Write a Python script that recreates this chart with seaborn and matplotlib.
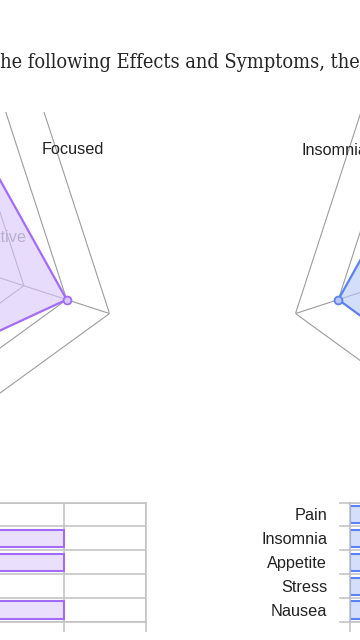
import numpy as np
import pandas as pd
import matplotlib
matplotlib.use("Agg")
import matplotlib.pyplot as plt
import seaborn as sns
from matplotlib.transforms import Bbox, TransformedBbox

# ---------------- data ----------------
title_text = "the following Effects and Symptoms, the"
effects = ["Relaxed", "Happy", "Focused", "Creative", "Energetic"]
effect_radar = [3, 4, 3, 2, 3]
symptoms = ["Pain", "Insomnia", "Appetite", "Stress", "Nausea"]
symptom_radar = [4, 4, 3, 3, 2]
radar_levels = [1, 2, 3, 4, 5]
effect_counts = [3, 4, 4, 2, 4]
symptom_counts = [3, 4, 2, 3, 2]
count_ticks = [0, 1, 2, 3, 4, 5]

# ---------------- style ----------------
W, H = 360, 640
sns.set_theme(style="white")
plt.rcParams["font.family"] = ["Liberation Sans", "DejaVu Sans"]

PURPLE = "#a36cf7"
PURPLE_FILL = "#d9c6fb"
PURPLE_BAR = "#eadffd"
BLUE = "#5b82ef"
BLUE_FILL = "#b7c8f8"
BLUE_BAR = "#d5dffb"
GRID = "#9c9c9c"
BAR_GRID = "#c0c0c0"
TXT = "#222222"

fig = plt.figure(figsize=(W / 100, H / 100), dpi=100)
fig.patch.set_facecolor("white")


def fx(px):
    return px / W


def fy(py):
    return (H - py) / H


radar_clip = TransformedBbox(Bbox([[0, 0], [1, fy(112)]]), fig.transFigure)


def radar(cx, cy, R, direction, values, color, fill):
    ax = fig.add_axes([fx(cx - R), fy(cy + R), 2 * R / W, 2 * R / H],
                      projection="polar")
    ax.set_theta_offset(1.5 * np.pi)
    ax.set_theta_direction(direction)
    n = len(values)
    theta = np.linspace(0, 2 * np.pi, n, endpoint=False)
    tc = np.append(theta, theta[0])
    top = max(radar_levels)
    for t in theta:
        ax.plot([t, t], [0, top], color=GRID, lw=0.8, zorder=1)
    for lv in radar_levels:
        ax.plot(tc, [lv] * (n + 1), color=GRID, lw=0.8, zorder=1)
    vc = np.append(values, values[0])
    ax.fill(tc, vc, color=fill, alpha=0.6, lw=0, zorder=2)
    ax.plot(tc, vc, color=color, lw=1.6, zorder=3)
    ax.scatter(theta, values, s=32, facecolor=fill, edgecolor=color,
               linewidth=1.3, zorder=4)
    ax.set_ylim(0, top)
    ax.set_xticks([])
    ax.set_yticks([])
    ax.grid(False)
    ax.spines["polar"].set_visible(False)
    ax.patch.set_visible(False)
    for a in ax.lines + ax.patches + ax.collections:
        a.set_clip_box(radar_clip)
    return ax


ax_l = radar(-104.5, 244, 225, 1, effect_radar, PURPLE, PURPLE_FILL)
ax_r = radar(509.5, 244, 225, -1, symptom_radar, BLUE, BLUE_FILL)

# axis labels of the radars visible in the window
fig.text(fx(72.5), fy(154), effects[2], ha="center", va="baseline",
         fontsize=11.7, color=TXT)
fig.text(fx(301.7), fy(155), symptoms[1], ha="left", va="baseline",
         fontsize=11.7, color=TXT)
ax_l.text(fx(26), fy(242), effects[3], transform=fig.transFigure,
          ha="right", va="baseline", fontsize=11.7, color="#8c8c8c", zorder=1.5)


# ---------------- bar charts ----------------
def bars(left_px, cats, counts, color, fill, show_labels):
    ax = fig.add_axes([fx(left_px), fy(622), 410 / W, 119.5 / H])
    df = pd.DataFrame({"cat": cats, "n": counts})
    sns.barplot(data=df, x="n", y="cat", orient="h", ax=ax, width=0.72,
                color=fill, saturation=1, edgecolor=color, linewidth=1.5,
                errorbar=None)
    ax.set_axisbelow(True)
    ax.set_xlim(0, max(count_ticks))
    ax.set_ylim(len(cats) - 0.5, -0.5)
    ax.set_xticks(count_ticks)
    ax.set_yticks(np.arange(len(cats)))
    ax.set_yticks(np.arange(-0.5, len(cats), 1), minor=True)
    ax.grid(True, axis="x", which="major", color=BAR_GRID, lw=1.1)
    ax.grid(True, axis="y", which="minor", color=BAR_GRID, lw=1.1)
    ax.grid(False, axis="y", which="major")
    ax.set_xlabel("")
    ax.set_ylabel("")
    ax.tick_params(axis="x", which="major", bottom=True, length=7.2,
                   width=1.1, color=BAR_GRID, labelbottom=False)
    ax.tick_params(axis="y", which="minor", left=True, length=8, width=1.1,
                   color=BAR_GRID)
    ax.tick_params(axis="y", which="major", left=False, length=0, pad=16.5,
                   labelsize=11.7, labelcolor=TXT, labelleft=show_labels)
    for s in ax.spines.values():
        s.set_color(BAR_GRID)
        s.set_linewidth(1.1)
    ax.patch.set_visible(False)
    return ax


bars(146 - 410, effects, effect_counts, PURPLE, PURPLE_BAR, False)
bars(350, symptoms, symptom_counts, BLUE, BLUE_BAR, True)

# ---------------- title ----------------
serif = ["DejaVu Serif"]
renderer = fig.canvas.get_renderer()
probe = fig.text(0, 0, title_text[1:], fontsize=14, family=serif,
                 fontstretch="condensed")
w = probe.get_window_extent(renderer).width
probe.remove()
fs = 14 * 362 / w
fig.text(fx(360), fy(68), title_text, ha="right", va="baseline",
         fontsize=fs, family=serif, fontstretch="condensed", color="#262626")

fig.savefig("out.png", dpi=100)
